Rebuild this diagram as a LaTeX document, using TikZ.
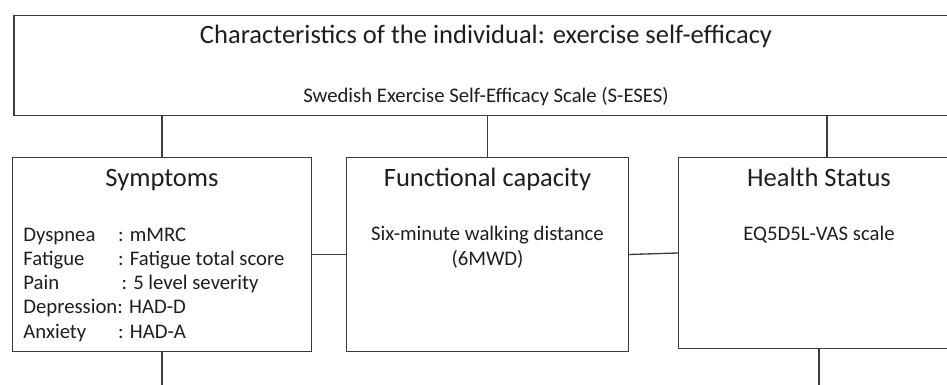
\documentclass[tikz,border=0pt]{standalone}
\usepackage{fontspec}
\setmainfont{Carlito}
\definecolor{linecol}{HTML}{3C3C3C}
\definecolor{txtcol}{HTML}{1E1E1E}
\tikzset{
  box/.style={draw=linecol, line width=0.75pt, rectangle, inner sep=0pt},
  conn/.style={draw=linecol, line width=0.75pt},
  bigtxt/.style={text=txtcol, inner sep=0pt, anchor=base, font=\fontsize{15.1}{18}\selectfont},
  smalltxt/.style={text=txtcol, inner sep=0pt, anchor=base, font=\fontsize{11.8}{14}\selectfont},
  listtxt/.style={smalltxt, anchor=base west}
}
\newcommand{\lbl}[1]{\makebox[53.9pt][l]{#1}}
\begin{document}
\begin{tikzpicture}[x=0.02cm, y=-0.02cm]
\useasboundingbox (0,0) rectangle (947,385);
\clip (0,0) rectangle (947,385);
% boxes
\node[box, minimum width=537.4pt, minimum height=57.3pt] (top) at (486,65.5) {};
\node[box, minimum width=170.1pt, minimum height=110.5pt] (sym) at (162,254.5) {};
\node[box, minimum width=160.4pt, minimum height=110.5pt] (func) at (487.5,254.5) {};
\node[box, minimum width=159.9pt, minimum height=108.8pt] (health) at (819,253) {};
% texts
\node[bigtxt] (title) at (486,44) {Characteristics of the individual: exercise self-efficacy};
\node[smalltxt] (sub) at (486,103) {Swedish Exercise Self-Efficacy Scale (S-ESES)};
\node[bigtxt] (symT) at (162,187) {Symptoms};
\node[listtxt] (l1) at (23,241) {\lbl{Dyspnea}: mMRC};
\node[listtxt] (l2) at (23,265) {\lbl{Fatigue}: Fatigue total score};
\node[listtxt] (l3) at (23,289) {\lbl{Pain}\,: 5 level severity};
\node[listtxt] (l4) at (23,313) {Depression: HAD-D};
\node[listtxt] (l5) at (23,338) {\lbl{Anxiety}: HAD-A};
\node[bigtxt] (funcT) at (487.5,187) {Functional capacity};
\node[smalltxt] (f1) at (487.5,240) {Six-minute walking distance};
\node[smalltxt] (f2) at (487.5,265) {(6MWD)};
\node[bigtxt] (healthT) at (819,187) {Health Status};
\node[smalltxt] (h1) at (819,240) {EQ5D5L-VAS scale};
% connector helpers
\coordinate (hTop) at (827,157);
\coordinate (symBot) at (162,385);
\coordinate (healthBot) at (819,385);
% connectors
\draw[conn] (sym.north |- top.south) -- (sym.north);
\draw[conn] (func.north |- top.south) -- (func.north);
\draw[conn] (hTop |- top.south) -- (hTop);
\draw[conn] (sym.east) -- (func.west);
\draw[conn] (func.east) -- (health.west);
\draw[conn] (sym.south) -- (symBot);
\draw[conn] (health.south) -- (healthBot);
\end{tikzpicture}
\end{document}
